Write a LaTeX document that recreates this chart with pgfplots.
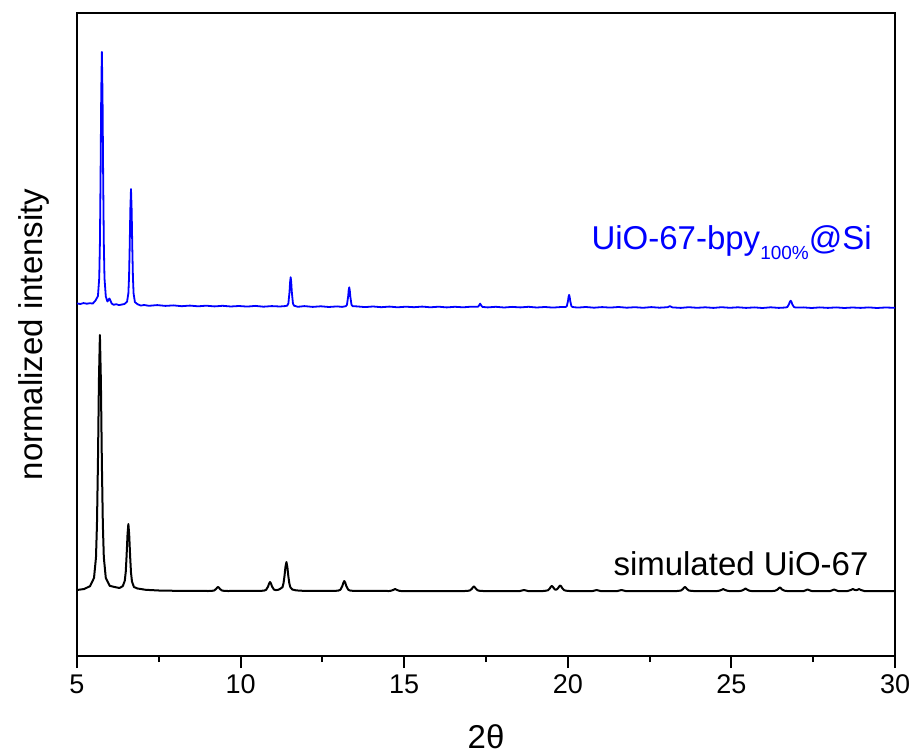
\documentclass[border=0pt]{standalone}
\usepackage{pgfplots}
\pgfplotsset{compat=1.18}
\usepackage{fontspec}
\setmainfont{Liberation Sans}

% simulated pattern (black), baseline at 65
\pgfplotstableread{
x y
5.00 66.0
5.22 67.0
5.40 69.9
5.52 78.1
5.58 98.5
5.61 131.3
5.64 193
5.67 275
5.70 321
5.73 275
5.76 193
5.79 131.3
5.82 98.5
5.88 78.1
6.00 70.2
6.15 69.0
6.30 68.0
6.40 69.9
6.46 75.2
6.49 84.3
6.515 99.8
6.545 122
6.57 132
6.595 121.5
6.625 99
6.65 83.5
6.68 74.5
6.74 69
6.85 67.5
7.10 66.2
7.50 65.5
8.00 65.2
9.01 65
9.13 65.2
9.19 65.5
9.25 67
9.28 68.3
9.31 69
9.34 68.3
9.37 67
9.43 65.5
9.49 65.2
9.61 65
10.60 65.1
10.72 65.4
10.78 66.2
10.84 69.5
10.87 72.4
10.90 74
10.93 72.4
10.96 69.5
11.02 66.4
11.08 65.9
11.16 66.3
11.22 67.4
11.28 68.8
11.31 72.5
11.34 79.5
11.37 88.8
11.40 94
11.43 88.8
11.46 79.5
11.49 72.5
11.52 68.8
11.58 66.5
11.70 65.6
11.90 65.2
12.87 65.1
12.99 65.4
13.05 66.3
13.11 70
13.14 73.2
13.17 75
13.20 73.2
13.23 70
13.29 66.3
13.35 65.4
13.47 65.1
14.54 65
14.60 65.3
14.66 66
14.72 67
14.78 66
14.84 65.3
14.90 65
16.85 65
16.95 65.2
17.01 65.6
17.07 67.3
17.10 68.7
17.13 69.5
17.16 68.7
17.19 67.3
17.25 65.6
17.31 65.2
17.41 65
18.54 65
18.60 65.5
18.66 66
18.72 65.5
18.78 65
19.25 65
19.33 65.3
19.39 65.7
19.45 67.6
19.48 69.2
19.51 70
19.54 69.3
19.57 67.9
19.61 66.4
19.64 66.3
19.68 67
19.71 68.2
19.74 69.7
19.77 70.5
19.80 69.6
19.83 67.8
19.89 65.8
19.95 65.3
20.05 65
20.76 65
20.82 65.5
20.88 66
20.94 65.5
21.00 65
21.52 65
21.58 65.5
21.64 66
21.70 65.5
21.76 65
23.34 65
23.40 65.2
23.46 65.5
23.52 67
23.55 68.3
23.58 69
23.61 68.3
23.64 67
23.70 65.5
23.76 65.2
23.84 65
24.57 65
24.63 65.3
24.69 66
24.75 67
24.81 66
24.87 65.3
24.93 65
25.25 65
25.31 65.3
25.37 66.2
25.43 67.5
25.49 66.2
25.55 65.3
25.61 65
26.26 65
26.34 65.3
26.42 66.7
26.45 67.9
26.48 68.5
26.51 67.9
26.54 66.7
26.62 65.3
26.70 65
27.21 65
27.27 65.7
27.33 66.5
27.39 65.7
27.45 65
28.02 65
28.08 65.7
28.14 66.5
28.20 65.7
28.26 65
28.55 65
28.65 66
28.71 67
28.77 66.1
28.81 65.9
28.85 66.1
28.90 67
28.96 66
29.06 65
30.00 65
}\simtable

% measured pattern (blue), baseline near 350
\pgfplotstableread{
x y
5.00 352.6
5.10 352.0
5.20 352.9
5.30 352.3
5.40 352.8
5.48 352.4
5.56 355.2
5.64 359.9
5.68 378.3
5.70 412.5
5.72 478.5
5.74 561.7
5.76 604
5.78 561.5
5.80 478.3
5.82 412.3
5.84 378
5.88 359.5
5.93 354.5
5.97 356.5
5.99 357.5
6.02 355.5
6.06 352.5
6.12 351.2
6.20 351.8
6.28 350.9
6.36 351.4
6.45 352.0
6.53 354.3
6.57 362.7
6.59 378.4
6.61 408.7
6.63 446.7
6.65 467
6.67 446.6
6.69 408.5
6.71 378.2
6.73 362.4
6.77 353.9
6.85 351.8
6.95 350.4
7.05 351.0
7.20 350.2
7.45 350.9
7.70 350.1
7.95 350.6
8.20 349.8
8.45 350.4
8.70 349.7
8.95 350.3
9.20 349.6
9.45 350.2
9.70 349.5
9.95 350.0
10.20 349.4
10.45 350.1
10.70 349.3
10.95 349.9
11.20 349.5
11.35 349.9
11.425 350.3
11.46 352.5
11.495 364.1
11.5125 373.8
11.53 378.8
11.5475 373.8
11.565 364.1
11.60 352.5
11.635 350.3
11.75 349.2
11.95 349.9
12.20 349.1
12.45 349.7
12.70 349.0
12.95 349.6
13.10 349.1
13.215 349.8
13.25 351.2
13.285 359.0
13.3025 365.4
13.32 368.7
13.3375 365.4
13.355 359.0
13.39 351.2
13.425 349.8
13.55 349.6
13.80 348.9
14.05 349.5
14.30 348.8
14.55 349.4
14.80 348.7
15.05 349.3
15.30 348.8
15.55 349.4
15.80 348.7
16.05 349.3
16.30 348.6
16.55 349.2
16.80 348.7
17.05 349.3
17.25 349.2
17.29 350.6
17.32 352.4
17.35 350.6
17.39 349.1
17.55 348.6
17.80 349.2
18.05 348.5
18.30 349.1
18.55 348.6
18.80 349.2
19.05 348.5
19.30 349.0
19.55 348.4
19.80 349.0
19.935 349.0
19.97 349.9
20.005 354.9
20.0225 359.0
20.04 361.1
20.0575 359.0
20.075 354.9
20.11 349.9
20.145 349.0
20.30 348.4
20.55 349.0
20.80 348.3
21.05 348.9
21.30 348.4
21.55 349.0
21.80 348.3
22.05 348.8
22.30 348.2
22.55 348.9
22.80 348.3
23.05 348.8
23.12 349.8
23.20 348.6
23.45 348.1
23.70 348.8
23.95 348.2
24.20 348.7
24.45 348.1
24.70 348.8
24.95 348.2
25.20 348.7
25.45 348.1
25.70 348.6
25.95 348.0
26.20 348.7
26.45 348.1
26.66 348.5
26.71 349.0
26.76 351.8
26.785 354.1
26.81 355.3
26.835 354.1
26.86 351.8
26.91 349.0
26.96 348.5
27.20 348.6
27.45 348.0
27.70 348.6
27.95 348.1
28.20 348.6
28.45 348.0
28.70 348.5
28.95 348.1
29.20 348.6
29.45 348.0
29.70 348.5
30.00 348.2
}\meastable

\begin{document}
\begin{tikzpicture}
  \begin{axis}[
      scale only axis,
      width=409pt, height=321.5pt,
      xmin=5, xmax=30, ymin=0, ymax=643,
      xtick={5,10,...,30},
      minor x tick num=1,
      ytick=\empty,
      xtick pos=bottom,
      tick align=outside,
      major tick length=6pt, minor tick length=3pt,
      every tick/.style={black, line width=1pt},
      axis line style={line width=1.2pt},
      /pgf/number format/assume math mode=true,
      xticklabel style={font=\fontsize{13.5}{16}\selectfont},
      xlabel={2θ},
      ylabel={normalized intensity},
      xlabel style={font=\fontsize{16.5}{20}\selectfont,
        at={(axis description cs:0.5,-0.1446)}, anchor=base},
      ylabel style={font=\fontsize{16.5}{20}\selectfont,
        at={(axis description cs:-0.0416,0.5)}, anchor=base},
      clip=false]
    \addplot[black, line width=1pt, line join=round] table[x=x, y=y] {\simtable};
    \addplot[blue, line width=0.9pt, line join=round] table[x=x, y=y] {\meastable};
    \node[anchor=base east, inner sep=0pt, text=blue,
          font=\fontsize{16.5}{20}\selectfont]
      at (axis cs:29.30,406) {UiO-67-bpy\raisebox{-5pt}{\fontsize{9.5}{11}\selectfont 100\%}@Si};
    \node[anchor=base east, inner sep=0pt,
          font=\fontsize{16.5}{20}\selectfont]
      at (axis cs:29.20,81) {simulated UiO-67};
  \end{axis}
  \pgfresetboundingbox
  \path[use as bounding box]
    ([shift={(-38.5pt,-49pt)}]current axis.south west) rectangle
    ([shift={(8.5pt,6.5pt)}]current axis.north east);
\end{tikzpicture}
\end{document}
